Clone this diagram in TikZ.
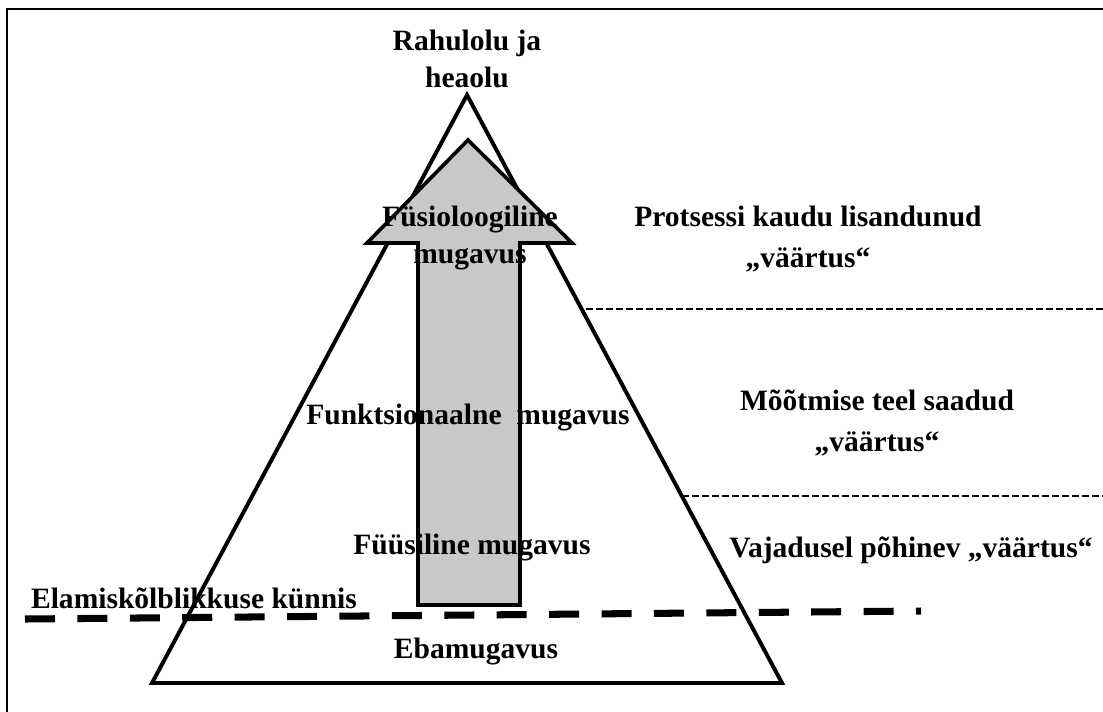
\documentclass[tikz,border=0pt]{standalone}
\usepackage{fontspec}
\setmainfont{Liberation Serif}
\definecolor{ArrowGray}{RGB}{200,200,200}
\usetikzlibrary{positioning}

\begin{document}
\begin{tikzpicture}[x=0.025cm, y=-0.025cm,
every node/.style={font=\bfseries\fontsize{21}{26}\selectfont, align=center, inner sep=0pt},
valuetext/.style={font=\bfseries\fontsize{21}{29}\selectfont},
frame/.style={draw, line width=1.8pt},
pyramid/.style={draw, line width=2.8pt, line join=miter},
uparrow/.style={draw, line width=2.6pt, line join=miter, fill=ArrowGray},
level/.style={line width=1.4pt, dash pattern=on 0.175cm off 0.075cm},
threshold/.style={line width=5pt, dash pattern=on 0.75cm off 0.56cm}]
\useasboundingbox (0,0) rectangle (1103,711);
\draw[frame] (7,9) rectangle (1115,725);
% pyramid
\coordinate (apex) at (467,95);
\coordinate (baseL) at (152,683);
\coordinate (baseR) at (782,683);
\draw[pyramid] (apex) -- (baseL) -- (baseR) -- cycle;
% arrow
\coordinate (tip) at (468,140);
\draw[uparrow] (tip) -- (572,243) -- (520,243) -- (520,605) -- (418,605) -- (418,243) -- (367,243) -- cycle;
% levels
\coordinate (lvlA) at (586,309);
\coordinate (lvlB) at (682,496);
\draw[level] (lvlA) -- (1110,309);
\draw[level] (lvlB) -- (1110,496);
\coordinate (threshL) at (25,619);
\coordinate (threshR) at (921,611);
\draw[threshold] (threshL) -- (threshR);
% labels
\node (wellbeing) at (467,59) {Rahulolu ja\\heaolu};
\node (physio) at (470,238) {Füsioloogiline\\mugavus};
\node (func) at (468,418) {Funktsionaalne\ \ mugavus};
\node (phys) at (472,548) {Füüsiline mugavus};
\node (discomf) at (476,652) {Ebamugavus};
\node (thresh) at (194,598) {Elamiskõlblikkuse künnis};
\node[valuetext] (process) at (808,239) {Protsessi kaudu lisandunud\\„väärtus“};
\node[valuetext] (measured) at (877,423) {Mõõtmise teel saadud\\„väärtus“};
\node (need) at (911,550) {Vajadusel põhinev „väärtus“};
\end{tikzpicture}
\end{document}
